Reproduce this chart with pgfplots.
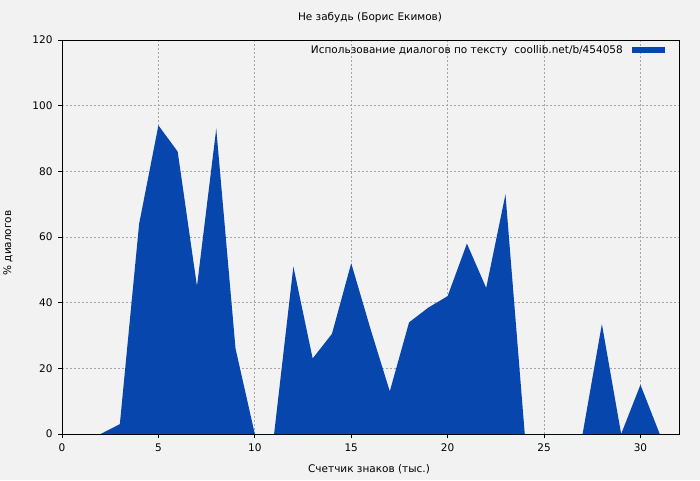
\documentclass[border=0pt]{standalone}
\usepackage{fontspec}
\setmainfont{DejaVu Sans}
\usepackage{pgfplots}
\pgfplotsset{compat=1.18}

\definecolor{bg}{RGB}{242,242,242}
\definecolor{fillblue}{RGB}{6,70,173}
\definecolor{gridgray}{RGB}{165,165,165}

\newcommand{\lbl}{\fontsize{10.5}{12}\selectfont}

\begin{document}
\begin{tikzpicture}[x=1pt,y=1pt]
  \fill[bg] (0,0) rectangle (700,480);
  \begin{axis}[
      at={(62pt,46pt)}, anchor=south west,
      scale only axis,
      width=617pt, height=394pt,
      xmin=0, xmax=32,
      ymin=0, ymax=120,
      xtick={0,5,...,30},
      ytick={0,20,...,120},
      tick align=outside,
      tick pos=left,
      major tick length=4pt,
      axis line style={black, line width=0.9pt},
      tick style={black, line width=0.8pt},
      grid=major,
      grid style={dash pattern=on 2pt off 2pt, gridgray, line width=0.7pt},
      axis background/.style={fill=bg},
      tick label style={font=\lbl},
      /pgf/number format/assume math mode=true,
      xticklabel style={yshift=-2pt},
      yticklabel style={xshift=-2pt},
      legend style={at={(1,1)}, anchor=north east, xshift=-13pt, yshift=-2pt,
        draw=none, fill=none, font=\lbl, inner sep=1pt},
      legend plot pos=right,
      legend image code/.code={\fill[fillblue] (0pt,-2.6pt) rectangle (33pt,2.6pt);},
    ]
    \addplot[fill=fillblue, draw=none] coordinates {
      (2,0) (3,3) (4,64) (5,94) (6,86) (7,45) (8,93) (9,26) (10,0) (11,0)
      (12,51) (13,23) (14,30.5) (15,52) (16,32) (17,13) (18,34) (19,38.5)
      (20,42) (21,58) (22,44.5) (23,73) (24,0) (25,0) (26,0) (27,0)
      (28,33.5) (29,0) (30,15) (31,0)
    } \closedcycle;
    \addlegendentry{Использование диалогов по тексту\ \ coollib.net/b/454058\kern7pt}
  \end{axis}
  \node[font=\lbl] at (370,462) {Не забудь (Борис Екимов)};
  \node[font=\lbl] at (369,11) {Счетчик знаков (тыс.)};
  \node[font=\lbl, rotate=90] at (8,237) {\% диалогов};
\end{tikzpicture}
\end{document}
